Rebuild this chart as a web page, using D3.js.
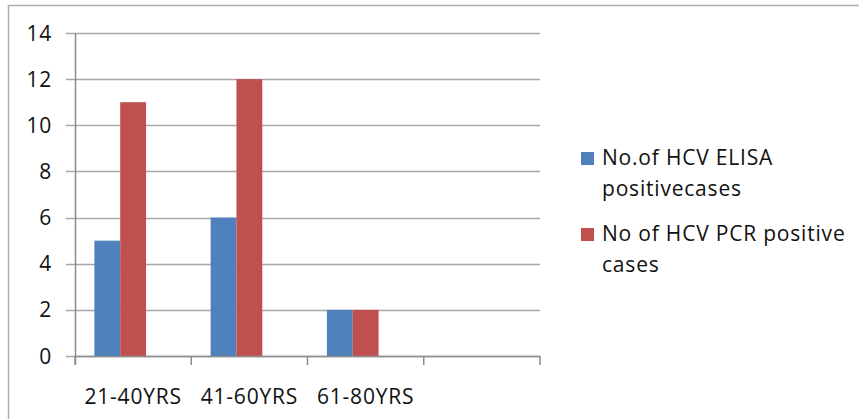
<!DOCTYPE html>
<html>
<head>
<meta charset="utf-8">
<script src="https://cdn.jsdelivr.net/npm/d3@7"></script>
<style>
  html, body { margin: 0; padding: 0; background: #fff; }
  svg { display: block; font-family: "Open Sans", Lato, sans-serif; }
  svg text { letter-spacing: 0.8px; }
</style>
</head>
<body>
<svg id="chart" width="859" height="419"></svg>
<script>
// Age groups (the fourth slot on the axis is left empty)
const categories = ["21-40YRS", "41-60YRS", "61-80YRS", ""];
const seriesNames = ["No.of HCV ELISA positivecases", "No of HCV PCR positive cases"];
const elisaValues = [5, 6, 2, null];
const pcrValues = [11, 12, 2, null];
const yTicks = [0, 2, 4, 6, 8, 10, 12, 14];
const legendLines = [["No.of HCV ELISA", "positivecases"], ["No of HCV PCR positive", "cases"]];
const colors = ["#4F81BD", "#C0504D"];

const svg = d3.select("#chart");
const fontSize = 21;

// Outer chart frame (runs off the right and bottom edges)
svg.append("rect")
  .attr("x", 8.5).attr("y", 5.5)
  .attr("width", 900).attr("height", 500)
  .attr("fill", "none").attr("stroke", "#b0b0b0").attr("stroke-width", 1.5);

const plot = { left: 75, right: 540, top: 33, bottom: 356 };

const y = d3.scaleLinear().domain([0, 14]).range([plot.bottom, plot.top]);
const x0 = d3.scaleBand().domain(d3.range(categories.length))
  .range([plot.left, plot.right]).padding(0);
const x1 = d3.scaleBand().domain(d3.range(seriesNames.length))
  .range([0, x0.bandwidth()]).paddingInner(0).paddingOuter(1.25).align(0.3);

// Horizontal gridlines with outward ticks
svg.append("g").selectAll("line").data(yTicks).join("line")
  .attr("x1", plot.left - 9).attr("x2", plot.right)
  .attr("y1", d => Math.round(y(d)) + 0.5).attr("y2", d => Math.round(y(d)) + 0.5)
  .attr("stroke", "#a6a6a6").attr("stroke-width", 1.5);

// Y labels
svg.append("g").selectAll("text").data(yTicks).join("text")
  .attr("x", 52).attr("y", d => y(d)).attr("dy", "0.36em")
  .attr("text-anchor", "end").attr("font-size", fontSize).attr("fill", "#111")
  .text(d => d);

// Bars
const rows = categories.map((c, i) => ({ i, vals: [elisaValues[i], pcrValues[i]] }));
const groups = svg.append("g").selectAll("g").data(rows).join("g")
  .attr("transform", d => `translate(${x0(d.i)},0)`);
groups.selectAll("rect")
  .data(d => d.vals.map((v, s) => ({ v, s })).filter(e => e.v != null))
  .join("rect")
  .attr("x", e => x1(e.s)).attr("width", x1.bandwidth())
  .attr("y", e => y(e.v)).attr("height", e => y(0) - y(e.v))
  .attr("fill", e => colors[e.s]);

// Y axis line
svg.append("line")
  .attr("x1", plot.left + 0.5).attr("x2", plot.left + 0.5)
  .attr("y1", plot.top).attr("y2", plot.bottom + 9)
  .attr("stroke", "#8c8c8c").attr("stroke-width", 1.5);

// X axis line and category separators
svg.append("line")
  .attr("x1", plot.left).attr("x2", plot.right)
  .attr("y1", Math.round(y(0)) + 0.5).attr("y2", Math.round(y(0)) + 0.5)
  .attr("stroke", "#8c8c8c").attr("stroke-width", 1.5);
const bounds = d3.range(categories.length + 1).map(i => plot.left + i * x0.step());
svg.append("g").selectAll("line").data(bounds).join("line")
  .attr("x1", d => d).attr("x2", d => d)
  .attr("y1", y(0)).attr("y2", y(0) + 9)
  .attr("stroke", "#8c8c8c").attr("stroke-width", 1.5);

// X labels
svg.append("g").selectAll("text").data(categories).join("text")
  .attr("x", (d, i) => x0(i) + x0.bandwidth() / 2)
  .attr("y", 404)
  .attr("text-anchor", "middle").attr("font-size", fontSize).attr("fill", "#111")
  .text(d => d);

// Legend
const legendY = [152, 228];
const leg = svg.append("g").selectAll("g").data(seriesNames).join("g")
  .attr("transform", (d, i) => `translate(581,${legendY[i]})`);
leg.append("rect").attr("width", 13).attr("height", 13)
  .attr("fill", (d, i) => colors[i]);
leg.append("text")
  .attr("x", 21).attr("y", 13)
  .attr("font-size", fontSize).attr("fill", "#111")
  .selectAll("tspan").data((d, i) => legendLines[i]).join("tspan")
  .attr("x", 21).attr("dy", (d, j) => j === 0 ? 0 : 31)
  .text(d => d);
</script>
</body>
</html>
